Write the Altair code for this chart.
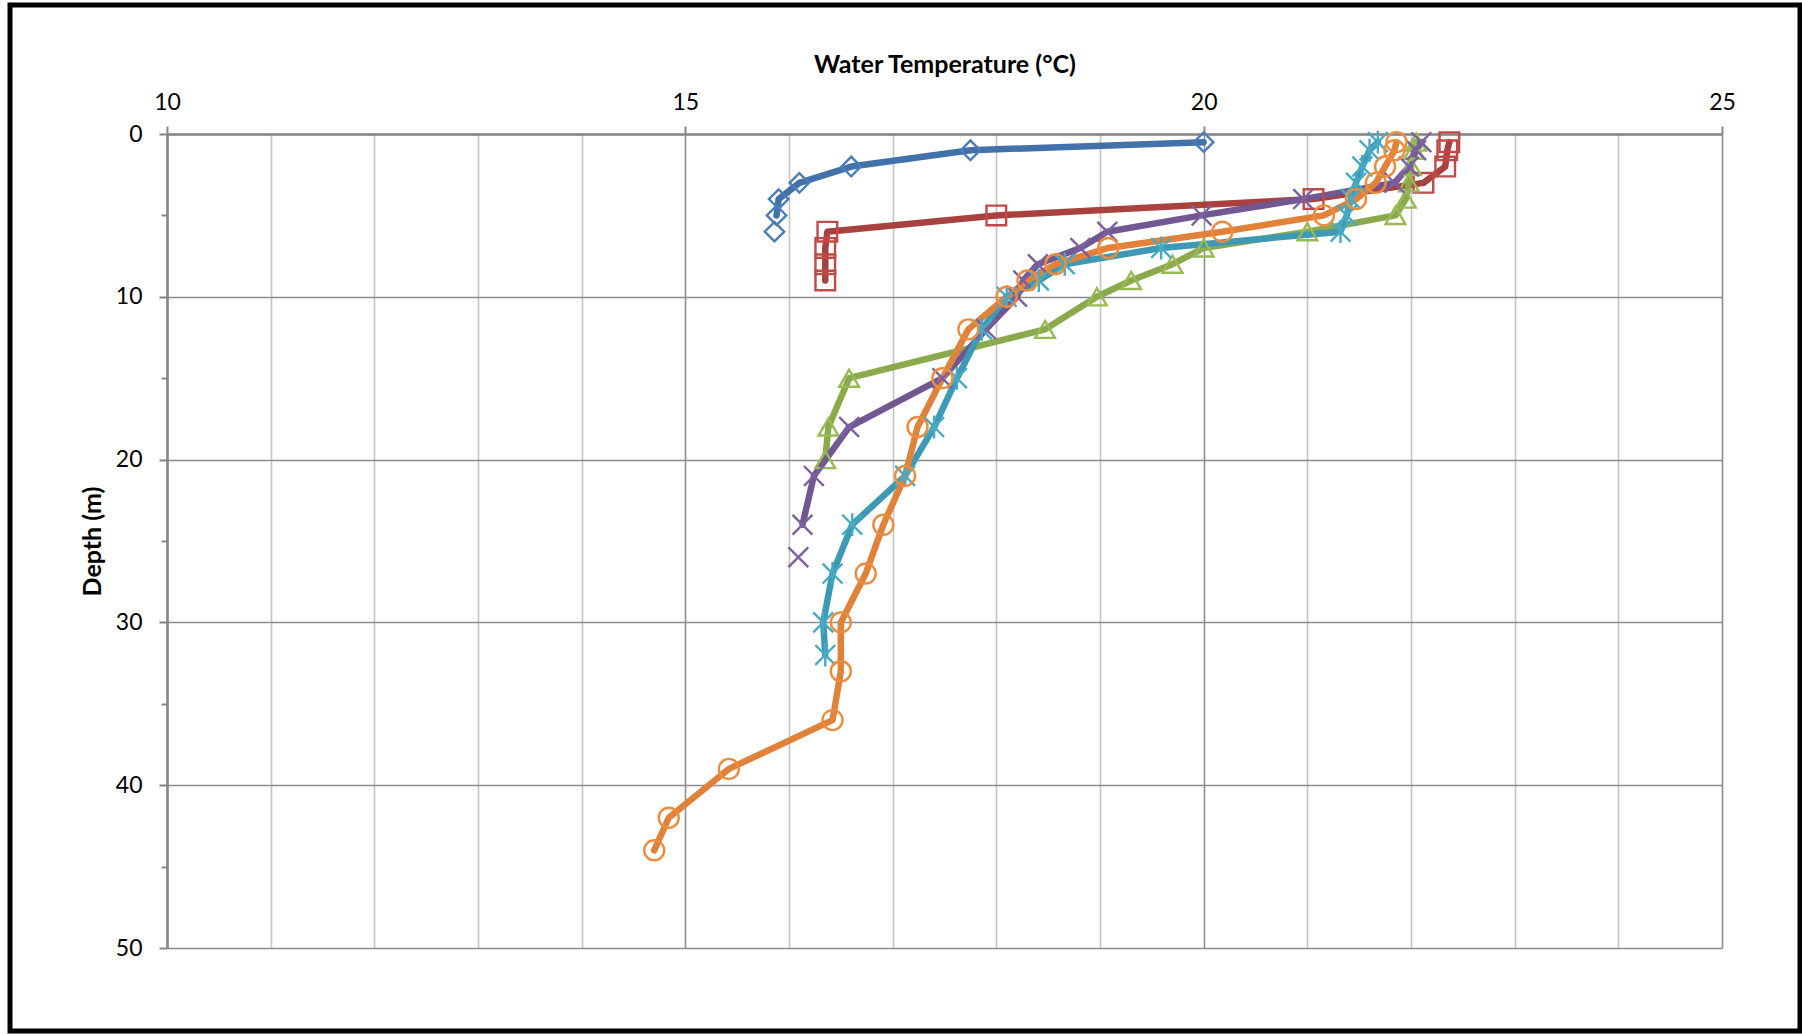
import altair as alt
import pandas as pd

# Water temperature profiles: depth (m) against temperature (°C).
# A None in both lists breaks the profile line; the reading after it stands alone.
profile_names = ["Profile 1", "Profile 2", "Profile 3", "Profile 4", "Profile 5", "Profile 6"]

p1_depth = [0.5, 1, 2, 3, 4, 5, None, 6]
p1_temp = [20.0, 17.75, 16.6, 16.1, 15.9, 15.88, None, 15.86]

p2_depth = [0.5, 1, 2, 3, 4, 5, 6, 7, 8, 9]
p2_temp = [22.37, 22.35, 22.33, 22.12, 21.06, 18.0, 16.37, 16.35, 16.35, 16.35]

p3_depth = [0.5, 1, 2, 3, 4, 5, 6, 7, 8, 9, 10, 12, 15, 18, 20]
p3_temp = [22.05, 22.03, 22.0, 21.98, 21.95, 21.85, 21.0, 20.0, 19.7, 19.3,
           18.97, 18.47, 16.58, 16.38, 16.35]

p4_depth = [0.5, 1, 2, 3, 4, 5, 6, 7, 8, 9, 10, 12, 15, 18, 21, 24, None, 26]
p4_temp = [22.1, 22.05, 21.98, 21.84, 20.96, 19.98, 19.07, 18.81, 18.4, 18.26,
           18.2, 17.9, 17.48, 16.58, 16.24, 16.13, None, 16.09]

p5_depth = [0.5, 1, 2, 3, 4, 5, 6, 7, 8, 9, 10, 12, 15, 18, 21, 24, 27, 30, 32]
p5_temp = [21.68, 21.6, 21.53, 21.47, 21.42, 21.38, 21.32, 19.59, 18.66, 18.41,
           18.1, 17.86, 17.62, 17.4, 17.12, 16.61, 16.42, 16.33, 16.35]

p6_depth = [0.5, 1, 2, 3, 4, 5, 6, 7, 8, 9, 10, 12, 15, 18, 21, 24, 27, 30, 33,
            36, 39, 42, 44]
p6_temp = [21.86, 21.84, 21.75, 21.66, 21.47, 21.16, 20.18, 19.08, 18.57, 18.3,
           18.1, 17.73, 17.48, 17.24, 17.12, 16.91, 16.74, 16.5, 16.5, 16.42,
           15.42, 14.84, 14.7]

all_depths = [p1_depth, p2_depth, p3_depth, p4_depth, p5_depth, p6_depth]
all_temps = [p1_temp, p2_temp, p3_temp, p4_temp, p5_temp, p6_temp]

# Styling per profile
line_colors = ["#4371A9", "#A9423F", "#8AAA4C", "#725893", "#3E9AB4", "#E0823A"]
marker_colors = ["#4A7EBB", "#BE4B48", "#98B954", "#7D60A0", "#46AAC5", "#EE8C3E"]
marker_shapes = [
    "diamond",
    "square",
    "triangle-up",
    "M-1,-1L1,1M-1,1L1,-1",
    "M-1,-1L1,1M-1,1L1,-1M0,-1.15L0,1.15",
    "circle",
]
marker_sizes = [380, 400, 420, 440, 440, 420]

rows = []
for name, depths, temps in zip(profile_names, all_depths, all_temps):
    seg = 0
    for d, t in zip(depths, temps):
        if d is None or t is None:
            seg += 1
            continue
        rows.append({"profile": name, "segment": f"{name}-{seg}", "depth": d, "temp": t})
df = pd.DataFrame(rows)
seg_len = df.groupby("segment")["depth"].transform("size")
line_df = df[seg_len > 1]

x_axis = alt.Axis(
    orient="top",
    values=list(range(10, 26)),
    title="Water Temperature (°C)",
    titleFont="Lato",
    titleFontSize=25,
    titleFontWeight="bold",
    titleColor="black",
    titlePadding=14,
    labelExpr="datum.value % 5 === 0 ? datum.label : ''",
    labelFont="Lato",
    labelFontSize=23,
    labelColor="black",
    labelPadding=12,
    labelFlush=False,
    labelOverlap=False,
    domainColor="#868686",
    domainWidth=2.5,
    tickColor="#868686",
    tickWidth=2,
    tickSize=8,
    tickOpacity={"condition": {"test": "datum.value % 5 === 0", "value": 1}, "value": 0},
    grid=True,
    gridColor={"condition": {"test": "datum.value % 5 === 0", "value": "#8E8E8E"}, "value": "#C4C4C4"},
    gridWidth=1.6,
)

y_axis = alt.Axis(
    orient="left",
    values=list(range(0, 51, 5)),
    title="Depth (m)",
    titleFont="Lato",
    titleFontSize=25,
    titleFontWeight="bold",
    titleColor="black",
    titlePadding=10,
    labelExpr="datum.value % 10 === 0 ? datum.label : ''",
    labelFont="Lato",
    labelFontSize=23,
    labelColor="black",
    labelPadding=17,
    labelFlush=False,
    labelOverlap=False,
    domainColor="#868686",
    domainWidth=2.5,
    tickColor="#868686",
    tickWidth=2,
    tickSize={"condition": {"test": "datum.value % 10 === 0", "value": 8}, "value": 6},
    grid=True,
    gridColor="#8C8C8C",
    gridWidth=1.6,
    gridOpacity={"condition": {"test": "datum.value % 10 === 0", "value": 1}, "value": 0},
)

x_enc = alt.X("temp:Q", scale=alt.Scale(domain=[10, 25], nice=False, zero=False), axis=x_axis)
y_enc = alt.Y("depth:Q", scale=alt.Scale(domain=[0, 50], nice=False, reverse=True), axis=y_axis)

frame = alt.Chart(pd.DataFrame({"frame": [0]})).mark_rect(
    fillOpacity=0, stroke="black", strokeWidth=5
).encode(
    x=alt.value(-157), x2=alt.value(1633), y=alt.value(-129), y2=alt.value(897)
)

lines = alt.Chart(line_df).mark_line(
    strokeWidth=6.5, interpolate="linear", strokeJoin="round", strokeCap="round"
).encode(
    x=x_enc,
    y=y_enc,
    color=alt.Color("profile:N", scale=alt.Scale(domain=profile_names, range=line_colors), legend=None),
    detail="segment:N",
    order=alt.Order("depth:Q"),
)

points = alt.Chart(df).mark_point(filled=False, strokeWidth=2.4, opacity=1).encode(
    x=x_enc,
    y=y_enc,
    stroke=alt.Stroke("profile:N", scale=alt.Scale(domain=profile_names, range=marker_colors), legend=None),
    shape=alt.Shape("profile:N", scale=alt.Scale(domain=profile_names, range=marker_shapes), legend=None),
    size=alt.Size("profile:N", scale=alt.Scale(domain=profile_names, range=marker_sizes), legend=None),
)

chart = alt.layer(frame, lines, points).resolve_scale(
    color="independent"
).properties(
    width=1555,
    height=814,
    padding={"left": 167, "top": 134, "right": 80, "bottom": 86},
    autosize=alt.AutoSizeParams(type="none"),
    background="white",
).configure_view(strokeOpacity=0)

chart.save("out.html", embed_options={"renderer": "svg", "actions": False})
